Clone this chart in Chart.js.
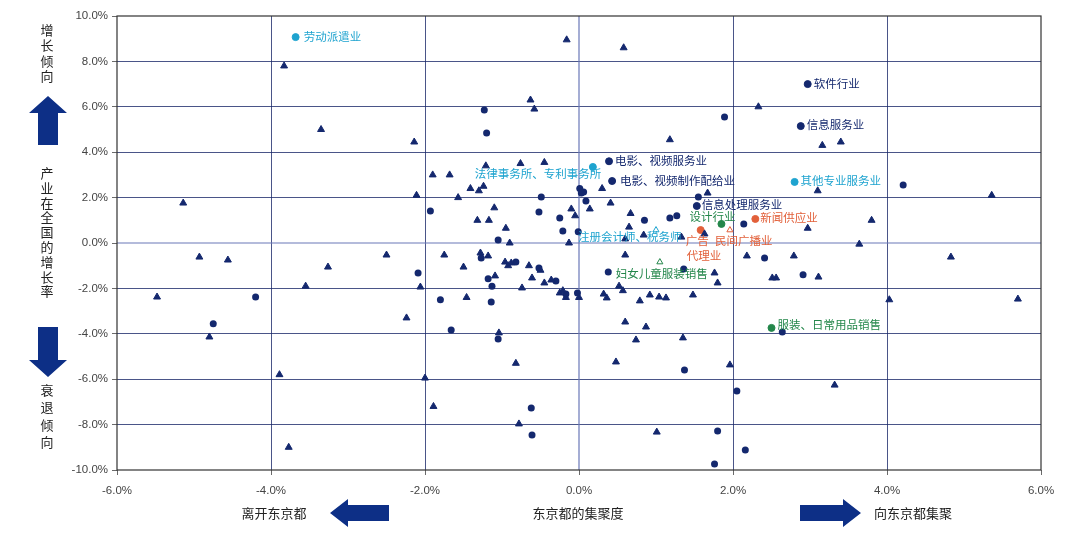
<!DOCTYPE html>
<html><head><meta charset="utf-8">
<script src="https://cdn.jsdelivr.net/npm/chart.js@4/dist/chart.umd.min.js"></script>
<style>html,body{margin:0;padding:0;background:#fff}#w{width:1080px;height:543px}</style>
</head><body><div id="w"><canvas id="c"></canvas></div>
<script>
// Other industries: triangles [x%, y%]
const triX = [-3.83,-3.35,-5.14,-2.14,-2.11,-1.9,-1.68,-1.57,-1.41,-1.3,-1.24,-1.21,-1.1,-1.32,-1.17,-0.95,-0.9,-0.76,-0.63,-0.58,-0.45,-0.16,-0.1,-0.05,-0.13,
 0.58,2.33,3.16,3.4,3.1,5.36,3.8,2.97,3.64,1.18,0.3,0.41,0.14,0.67,0.65,0.84,1.67,1.63,1.33,0.6,
 -5.48,-4.93,-4.56,-4.8,-3.89,-3.77,-3.55,-3.26,-2.5,-2.24,-2.06,-2.0,-1.89,-1.75,-1.5,-1.46,-1.28,-1.18,-1.09,-1.04,-0.96,-0.92,-0.88,-0.82,-0.78,-0.74,-0.65,-0.61,-0.5,-0.45,-0.36,-0.25,-0.21,-0.17,0.0,
 0.32,0.36,0.52,0.57,0.6,0.48,0.6,0.74,0.79,0.87,0.92,1.04,1.13,1.35,1.48,1.76,1.8,1.96,1.01,2.18,2.56,3.11,3.32,4.03,4.83,5.7,2.51,2.79];
const triY = [7.8,5.0,1.76,4.45,2.1,3.0,3.0,2.0,2.4,2.3,2.5,3.4,1.55,1.0,1.0,0.65,0.0,3.5,6.3,5.9,3.55,8.95,1.5,1.2,0.0,
 8.6,6.0,4.3,4.45,2.3,2.1,1.0,0.65,-0.05,4.55,2.4,1.76,1.5,1.3,0.7,0.35,2.2,0.4,0.26,0.18,
 -2.38,-0.62,-0.75,-4.14,-5.8,-9.0,-1.9,-1.06,-0.53,-3.3,-1.94,-5.95,-7.2,-0.53,-1.06,-2.4,-0.44,-0.57,-1.45,-3.96,-0.84,-1.0,-0.88,-5.3,-7.97,-1.98,-1.0,-1.54,-1.2,-1.76,-1.63,-2.2,-2.1,-2.4,-2.4,
 -2.25,-2.42,-1.9,-2.1,-0.53,-5.24,-3.48,-4.27,-2.55,-3.7,-2.29,-2.38,-2.42,-4.18,-2.29,-1.32,-1.76,-5.37,-8.33,-0.57,-1.54,-1.5,-6.26,-2.5,-0.62,-2.47,-1.54,-0.57];
// Other industries: circles
const cirX = [-1.23,-1.2,-1.93,-0.49,-0.25,-0.01,-0.21,-1.05,-0.52,0.01,0.06,
 1.89,4.21,0.03,0.09,1.55,0.85,1.18,1.27,2.14,
 -4.75,-4.2,-2.09,-1.8,-1.66,-1.18,-1.14,-1.05,-0.82,-0.62,-0.61,-0.52,-0.3,-0.17,-0.02,-1.27,-1.13,
 0.38,1.37,2.41,2.91,2.64,2.05,1.8,2.16,1.76,1.36];
const cirY = [5.86,4.85,1.41,2.03,1.1,0.5,0.53,0.13,1.37,2.4,2.25,
 5.55,2.55,2.2,1.85,2.03,1.0,1.1,1.2,0.84,
 -3.56,-2.38,-1.32,-2.5,-3.83,-1.58,-2.6,-4.23,-0.84,-7.27,-8.46,-1.1,-1.67,-2.25,-2.2,-0.66,-1.9,
 -1.28,-5.6,-0.66,-1.4,-3.92,-6.52,-8.28,-9.12,-9.74,-1.15];
// Highlighted industries
const hlNames = ['劳动派遣业','软件行业','信息服务业','电影、视频服务业','电影、视频制作配给业','法律事务所、专利事务所','其他专业服务业','信息处理服务业','设计行业','新闻供应业','广告代理业','民间广播业','注册会计师、税务师','妇女儿童服装销售','服装、日常用品销售'];
const hlX = [-3.68,2.97,2.88,0.39,0.43,0.18,2.8,1.53,1.85,2.29,1.58,1.96,1.0,1.05,2.5];
const hlY = [9.07,7.0,5.15,3.6,2.73,3.35,2.69,1.63,0.84,1.06,0.57,0.57,0.57,-0.84,-3.74];
const hlGroup = ['c','n','n','n','n','c','c','n','g','o','o','o','c','g','g'];
const hlShape = ['circle','circle','circle','circle','circle','circle','circle','circle','circle','circle','circle','triangle','triangle','triangle','circle'];
const hlHollow = [0,0,0,0,0,0,0,0,0,0,0,1,1,1,0];
const xTicks = [-6,-4,-2,0,2,4,6];
const yTicks = [-10,-8,-6,-4,-2,0,2,4,6,8,10];

const COL = {n:'#14286e', c:'#1ea3cf', o:'#e2603a', g:'#23864a'};
const lblOff = [[8,0],[6,0],[6,-1],[6,-1],[8,0],[-118,7],[6,-1],[5,-1],[-32,-7],[5,-1],[-15,11],[-15,11],[-78,7],[-44,12],[6,-3]];
const lblText = hlNames.map(s=>[s]);
lblText[10] = ['广告','代理业']; lblText[11] = ['民间广播业'];

const hlPts = hlX.map((x,i)=>({x, y:hlY[i]}));
const pct = v => v.toFixed(1)+'%';

const deco = {
  id:'deco',
  beforeDatasetsDraw(ch){
    const {ctx, scales:{x,y}, chartArea:a} = ch;
    ctx.save(); ctx.strokeStyle='#6a78b8'; ctx.lineWidth=1.2;
    ctx.beginPath();
    ctx.moveTo(x.getPixelForValue(0), a.top); ctx.lineTo(x.getPixelForValue(0), a.bottom);
    ctx.moveTo(a.left, y.getPixelForValue(0)); ctx.lineTo(a.right, y.getPixelForValue(0));
    ctx.stroke();
    ctx.strokeStyle='#333'; ctx.lineWidth=1.2; ctx.strokeRect(a.left,a.top,a.right-a.left,a.bottom-a.top);
    ctx.restore();
  },
  afterDatasetsDraw(ch){
    const {ctx, scales:{x,y}} = ch;
    ctx.save();
    ctx.font = '11.5px "Noto Sans CJK SC"'; ctx.textBaseline='middle';
    hlPts.forEach((p,i)=>{
      const px = x.getPixelForValue(p.x), py = y.getPixelForValue(p.y);
      ctx.fillStyle = COL[hlGroup[i]];
      lblText[i].forEach((t,k)=>{
        let dx = lblOff[i][0];
        if(i===10 && k===1) dx += 1;
        ctx.fillText(t, px+dx, py+lblOff[i][1]+k*15);
      });
    });
    ctx.fillStyle='#222'; ctx.font='13px "Noto Sans CJK SC"'; ctx.textAlign='center';
    '增长倾向'.split('').forEach((c,k)=>ctx.fillText(c,47,30+k*15.3));
    '产业在全国的增长率'.split('').forEach((c,k)=>ctx.fillText(c,47,173+k*14.8));
    '衰退倾向'.split('').forEach((c,k)=>ctx.fillText(c,47,390+k*17.5));
    ctx.fillText('离开东京都',274,513);
    ctx.fillText('东京都的集聚度',578,513);
    ctx.fillText('向东京都集聚',913,513);
    ctx.fillStyle='#0d2f86';
    const poly = pts=>{ctx.beginPath(); pts.forEach((q,k)=>k?ctx.lineTo(q[0],q[1]):ctx.moveTo(q[0],q[1])); ctx.closePath(); ctx.fill();};
    poly([[48,96],[67,113],[58,113],[58,145],[38,145],[38,113],[29,113]]);
    poly([[48,377],[67,360],[58,360],[58,327],[38,327],[38,360],[29,360]]);
    poly([[330,513],[348,499],[348,505],[389,505],[389,521],[348,521],[348,527]]);
    poly([[861,513],[843,499],[843,505],[800,505],[800,521],[843,521],[843,527]]);
    ctx.restore();
  }
};

new Chart(document.getElementById('c'), {
  type:'scatter',
  data:{datasets:[
    {data:triX.map((x,i)=>({x,y:triY[i]})), pointStyle:'triangle', radius:4, backgroundColor:'#14286e', borderColor:'#14286e', borderWidth:1},
    {data:cirX.map((x,i)=>({x,y:cirY[i]})), pointStyle:'circle', radius:3.5, backgroundColor:'#14286e', borderColor:'#14286e', borderWidth:0},
    {data:hlPts, pointStyle:hlShape, radius:3.5,
     backgroundColor:hlPts.map((p,i)=>hlHollow[i]?'#fff':COL[hlGroup[i]]),
     borderColor:hlPts.map((p,i)=>COL[hlGroup[i]]), borderWidth:1}
  ]},
  options:{
    responsive:true, maintainAspectRatio:false, animation:false,
    layout:{padding:{top:16,right:39,left:0,bottom:0}},
    plugins:{legend:{display:false}, tooltip:{enabled:false}},
    scales:{
      x:{min:-6,max:6,afterFit:s=>{s.height=73;},
        afterBuildTicks:s=>{s.ticks=xTicks.map(v=>({value:v}));},
        ticks:{callback:pct, color:'#444', font:{size:11.5, family:'Liberation Sans'}, padding:9, maxRotation:0},
        grid:{color:c=>(c.tick&&(c.tick.value===0||Math.abs(c.tick.value)===6))?'transparent':'#1c2a6a', lineWidth:0.8, tickLength:5, tickColor:'#444', drawTicks:true},
        border:{display:false}
      },
      y:{min:-10,max:10,afterFit:s=>{s.width=117;},
        afterBuildTicks:s=>{s.ticks=yTicks.map(v=>({value:v}));},
        ticks:{callback:pct, color:'#444', font:{size:11.5, family:'Liberation Sans'}, padding:4},
        grid:{color:c=>(c.tick&&(c.tick.value===0||Math.abs(c.tick.value)===10))?'transparent':'#1c2a6a', lineWidth:0.8, tickLength:5, tickColor:'#444'},
        border:{display:false}
      }
    }
  },
  plugins:[deco]
});
</script></body></html>
